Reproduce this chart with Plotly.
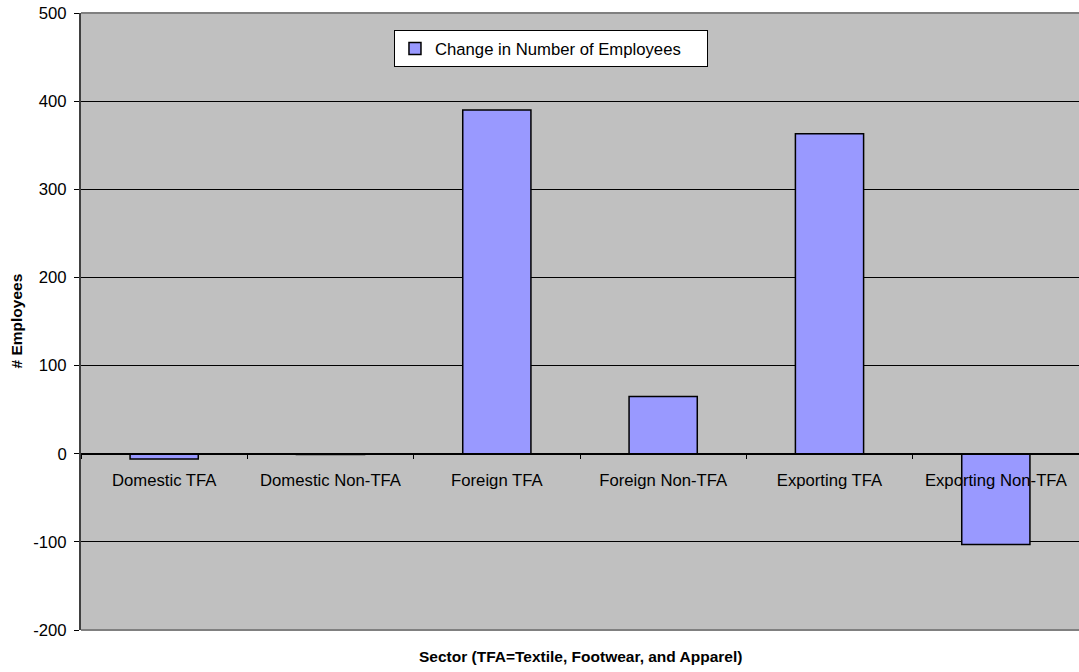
import plotly.graph_objects as go

categories = ["Domestic TFA", "Domestic Non-TFA", "Foreign TFA", "Foreign Non-TFA", "Exporting TFA", "Exporting Non-TFA"]
change_employees = [-6, -1, 390, 65, 363, -103]
y_ticks = [-200, -100, 0, 100, 200, 300, 400, 500]
y_tick_labels = ["-200", "-100", "0", "100", "200", "300", "400", "500"]

FONT = "Liberation Sans, Arial, sans-serif"
FS = 16.7

fig = go.Figure()
fig.add_trace(go.Bar(
    x=categories, y=change_employees,
    name="Change in Number of Employees",
    marker=dict(color="#9999FF", line=dict(color="black", width=1.5)),
    showlegend=True,
))

zero_pos = (0 - (-200)) / 700

fig.update_layout(
    width=1079, height=672,
    margin=dict(l=81, r=0, t=13, b=42, autoexpand=False),
    paper_bgcolor="white",
    plot_bgcolor="#C0C0C0",
    font=dict(family=FONT, size=FS, color="black"),
    bargap=0.59,
    showlegend=True,
    legend=dict(
        orientation="h",
        x=0.3136, y=0.9724, xanchor="left", yanchor="top",
        bgcolor="white", bordercolor="black", borderwidth=1,
        font=dict(family=FONT, size=FS),
        itemwidth=30,
        entrywidth=267, entrywidthmode="pixels",
        tracegroupgap=0,
    ),
    xaxis=dict(
        type="category",
        anchor="free", position=zero_pos,
        showline=True, linecolor="black", linewidth=1,
        ticks="outside", ticklen=4, tickcolor="black",
        tickson="boundaries",
        ticklabelstandoff=11,
        showgrid=False, zeroline=False,
        tickfont=dict(family=FONT, size=FS),
    ),
    yaxis=dict(
        range=[-200, 500],
        tickvals=y_ticks, ticktext=y_tick_labels,
        ticklabeloverflow="allow",
        showgrid=True, gridcolor="black", gridwidth=1,
        zeroline=False,
        showline=True, linecolor="#404040", linewidth=2,
        ticks="outside", ticklen=5, tickcolor="black",
        ticklabelstandoff=4,
        tickfont=dict(family=FONT, size=FS),
    ),
)

# top and bottom plot-area border lines
fig.add_shape(type="line", xref="paper", yref="paper", x0=0, x1=1, y0=1, y1=1,
              line=dict(color="#808080", width=2))
fig.add_shape(type="line", xref="paper", yref="paper", x0=0, x1=1, y0=0, y1=0,
              line=dict(color="#808080", width=2))

# y-axis title
fig.add_annotation(
    text="<b># Employees</b>",
    xref="paper", yref="paper", x=0, y=0.5, xshift=-65,
    xanchor="center", yanchor="middle", textangle=-90, showarrow=False,
    font=dict(family=FONT, size=15.5),
)

# x-axis title
fig.add_annotation(
    text="<b>Sector (TFA=Textile, Footwear, and Apparel)</b>",
    xref="paper", yref="paper", x=0.5, y=0, yshift=-26,
    xanchor="center", yanchor="middle", showarrow=False,
    font=dict(family=FONT, size=15.5),
)

# remove the default 8px page margin so the figure fills the window exactly
fig.write_html(
    "out.html",
    config={"displayModeBar": False},
    post_script="document.body.style.margin='0';document.body.style.overflow='hidden';",
)
